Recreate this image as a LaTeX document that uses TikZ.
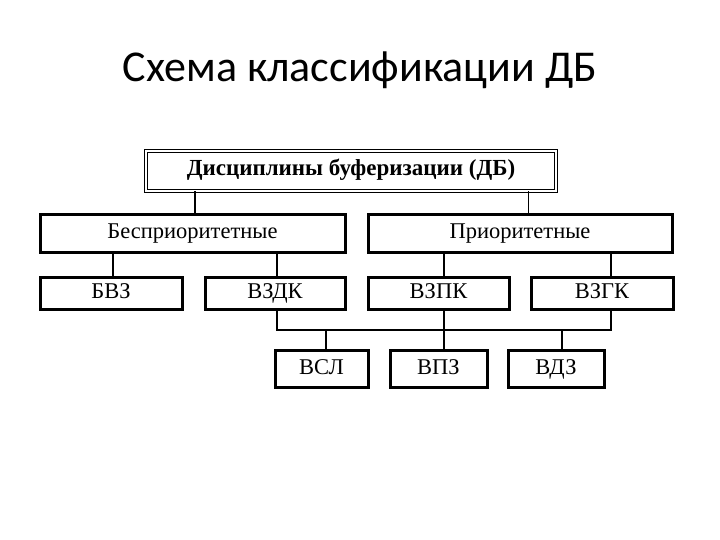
\documentclass[tikz,border=0pt]{standalone}
\usepackage{fontspec}
\setmainfont{Liberation Serif}
\newfontfamily\titlefont{Carlito}
\begin{document}
\begin{tikzpicture}[x=1pt,y=-1pt,
  bx/.style={draw,line width=3pt,inner sep=0pt,text height=15pt,text depth=5pt,font=\fontsize{22.5}{24}\selectfont},
  ln/.style={line width=1.5pt},
  thin/.style={line width=0.8pt}]
\useasboundingbox (0,0) rectangle (720,540);
\node[font=\titlefont\fontsize{44}{48}\selectfont] (title) at (360,70) {Схема классификации ДБ};
\node[draw,double,double distance=2pt,line width=1pt,minimum width=410pt,minimum height=40pt,text height=15pt,text depth=5pt,font=\bfseries\fontsize{23}{25}\selectfont] (db) at (351,171) {Дисциплины буферизации (ДБ)};
\node[bx,minimum width=305pt,minimum height=38pt] (bp) at (192.5,233.5) {Бесприоритетные};
\node[bx,minimum width=304pt,minimum height=38pt] (p) at (520,233.5) {Приоритетные};
\node[bx,minimum width=142pt,minimum height=32pt] (bvz) at (111,293.5) {БВЗ};
\node[bx,minimum width=140pt,minimum height=32pt] (vzdk) at (275,293.5) {ВЗДК};
\node[bx,minimum width=141pt,minimum height=32pt] (vzpk) at (438.5,293.5) {ВЗПК};
\node[bx,minimum width=142pt,minimum height=32pt] (vzgk) at (602,293.5) {ВЗГК};
\node[bx,minimum width=93pt,minimum height=37pt] (vsl) at (321.5,369) {ВСЛ};
\node[bx,minimum width=97pt,minimum height=37pt] (vpz) at (438.5,369) {ВПЗ};
\node[bx,minimum width=96pt,minimum height=37pt] (vdz) at (556,369) {ВДЗ};
\draw[ln] (db.south -| 195,0) -- (bp.north -| 195,0);
\draw[thin] (db.south -| 528,0) -- (p.north -| 528,0);
\draw[ln] (bp.south -| 113,0) -- (bvz.north -| 113,0);
\draw[ln] (bp.south -| 277,0) -- (vzdk.north -| 277,0);
\draw[ln] (p.south -| 444,0) -- (vzpk.north -| 444,0);
\draw[ln] (p.south -| 611,0) -- (vzgk.north -| 611,0);
\coordinate (busl) at (277,330);
\coordinate (busr) at (611,330);
\draw[ln] (vzdk.south -| busl) -- (busl) -- (busr) -- (vzgk.south -| busr);
\draw[ln] (vzpk.south -| 444,0) -- (vpz.north -| 444,0);
\draw[ln] (326,330) -- (vsl.north -| 326,0);
\draw[ln] (562,330) -- (vdz.north -| 562,0);
\end{tikzpicture}
\end{document}
